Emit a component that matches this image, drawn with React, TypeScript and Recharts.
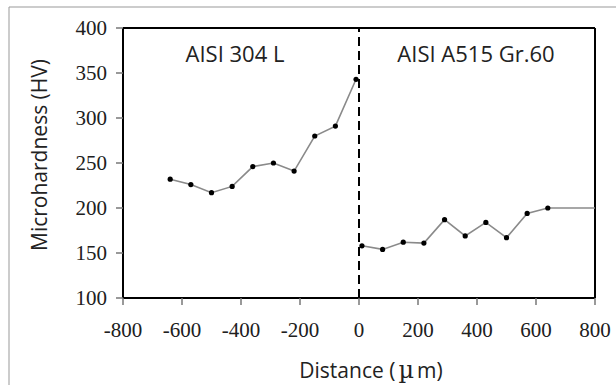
import React from "react";
import { LineChart, Line, XAxis, YAxis, ReferenceLine } from "recharts";

// AISI 304 L side (negative distance)
const leftDistance = [-640, -570, -500, -430, -360, -290, -220, -150, -80, -10];
const leftHardness = [232, 226, 217, 224, 246, 250, 241, 280, 291, 343];

// AISI A515 Gr.60 side; last point is the base-metal level (no marker)
const rightDistance = [10, 80, 150, 220, 290, 360, 430, 500, 570, 640, 800];
const rightHardness = [158, 154, 162, 161, 187, 169, 184, 167, 194, 200, 200];

const xTicks = [-800, -600, -400, -200, 0, 200, 400, 600, 800];
const yTicks = [100, 150, 200, 250, 300, 350, 400];

const leftData = leftDistance.map((d, i) => ({ d, hv: leftHardness[i] }));
const rightData = rightDistance.map((d, i) => ({ d, hv: rightHardness[i] }));

if (typeof document !== "undefined") document.body.style.margin = "0";

const W = 616;
const H = 385;
const serif = "Liberation Serif";
const sans = "Open Sans";
const tickStyle = { fontFamily: serif, fontSize: 21, fill: "#202020" };

const renderDot = (props: any) => {
    const { cx, cy, payload, index } = props;
    if (payload.d === 800) return <g key={`n-${index}`} />;
    return <circle key={`d-${index}`} cx={cx} cy={cy} r={2.6} fill="#000" />;
};

const XTick = (props: any) => {
    const { x, y, payload } = props;
    return (
        <text x={x} y={y + 15} textAnchor="middle" fontFamily={serif} fontSize={21} fill="#202020" style={tickStyle}>
            {String(payload.value)}
        </text>
    );
};

const YTick = (props: any) => {
    const { x, y, payload } = props;
    return (
        <text x={x} y={y + 7} textAnchor="end" fontFamily={serif} fontSize={21} fill="#202020" style={tickStyle}>
            {String(payload.value)}
        </text>
    );
};

export default function App() {
    return (
        <div style={{ position: "relative", width: W, height: H, background: "#fff" }}>
            <LineChart
                width={W}
                height={H}
                margin={{ top: 28, right: 21, bottom: 47, left: 63 }}
            >
                <XAxis
                    type="number"
                    dataKey="d"
                    domain={[-800, 800]}
                    ticks={xTicks}
                    allowDataOverflow
                    height={40}
                    axisLine={{ stroke: "#000", strokeWidth: 2 }}
                    tickLine={{ stroke: "#777", strokeWidth: 1.5 }}
                    tickSize={7}
                    tickMargin={17}
                    tick={XTick}
                />
                <YAxis
                    type="number"
                    domain={[100, 400]}
                    ticks={yTicks}
                    width={60}
                    axisLine={{ stroke: "#000", strokeWidth: 2 }}
                    tickLine={{ stroke: "#777", strokeWidth: 1.5 }}
                    tickSize={7}
                    tickMargin={9}
                    tick={YTick}
                />
                <ReferenceLine y={400} stroke="#000" strokeWidth={2} />
                <ReferenceLine x={800} stroke="#000" strokeWidth={2} />
                <ReferenceLine x={0} stroke="#000" strokeWidth={2} strokeDasharray="9 5" />
                <Line
                    data={leftData}
                    dataKey="hv"
                    stroke="#8a8a8a"
                    strokeWidth={1.6}
                    dot={renderDot}
                    isAnimationActive={false}
                />
                <Line
                    data={rightData}
                    dataKey="hv"
                    stroke="#8a8a8a"
                    strokeWidth={1.6}
                    dot={renderDot}
                    isAnimationActive={false}
                />
            </LineChart>
            <svg
                width={W}
                height={H}
                style={{ position: "absolute", left: 0, top: 0, pointerEvents: "none" }}
            >
                <line x1={9} y1={7} x2={W} y2={7} stroke="#999" strokeWidth={1} />
                <line x1={9} y1={7} x2={9} y2={H} stroke="#999" strokeWidth={1} />
                <text x={235} y={62} textAnchor="middle" fontFamily={sans} fontSize={22} fill="#222">
                    AISI 304 L
                </text>
                <text x={476} y={62} textAnchor="middle" fontFamily={sans} fontSize={22} fill="#222">
                    AISI A515 Gr.60
                </text>
                <text
                    x={0}
                    y={0}
                    transform="translate(47,155) rotate(-90)"
                    textAnchor="middle"
                    fontFamily={sans}
                    fontSize={21}
                    fill="#222"
                >
                    Microhardness (HV)
                </text>
                <text x={371} y={378} textAnchor="middle" fontFamily={sans} fontSize={21} fill="#222">
                    Distance (<tspan fontFamily="DejaVu Serif" fontSize={24} dx={3}>µ</tspan>
                    <tspan dx={3}>m)</tspan>
                </text>
            </svg>
        </div>
    );
}
